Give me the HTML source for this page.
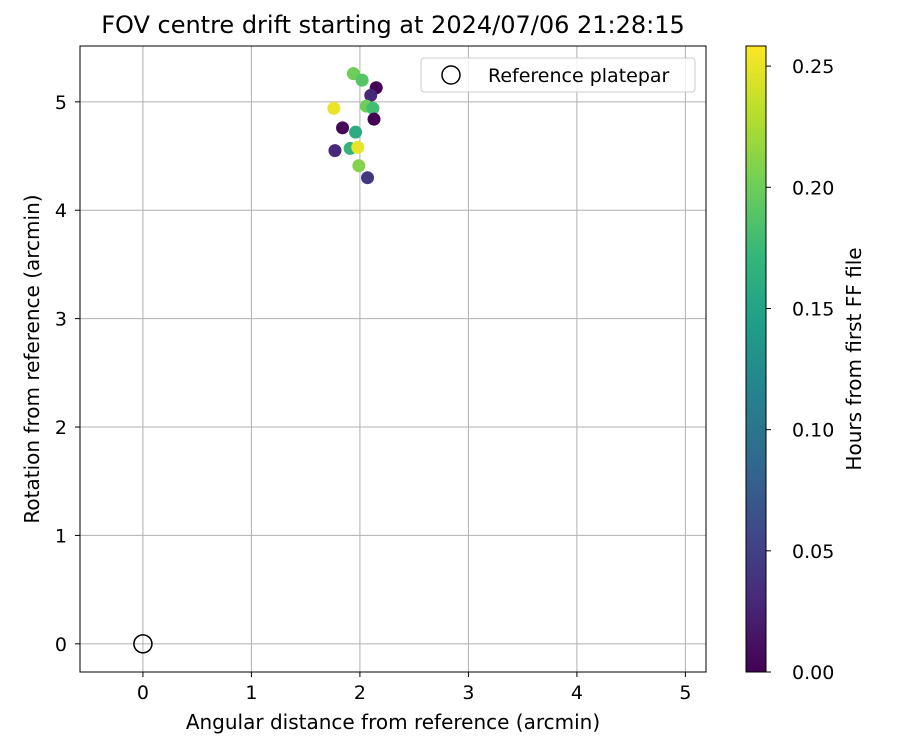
<!DOCTYPE html>
<html><head><meta charset="utf-8"><style>
body{margin:0;background:#fff;font-family:"Liberation Sans","DejaVu Sans",sans-serif;}
svg text{font-family:"DejaVu Sans","Liberation Sans",sans-serif;fill:#000}
</style></head><body>
<svg id="chart" width="900" height="750" xmlns="http://www.w3.org/2000/svg">
<text x="393" y="33" font-size="24" text-anchor="middle">FOV centre drift starting at 2024/07/06 21:28:15</text>
<g id="grid"></g>
<g id="points"></g>
<rect x="80" y="46" width="626" height="626" fill="none" stroke="#000" stroke-width="1"/>
<g id="ticks"></g>
<text x="393" y="729" font-size="20" text-anchor="middle">Angular distance from reference (arcmin)</text>
<text transform="translate(39,359) rotate(-90)" font-size="20" text-anchor="middle">Rotation from reference (arcmin)</text>
<g>
<rect x="421" y="58" width="274" height="34" rx="3" fill="#fff" fill-opacity="0.8" stroke="#ccc"/>
<circle cx="451" cy="75" r="9" fill="none" stroke="#000" stroke-width="1.5"/>
<text x="488" y="82" font-size="19">Reference platepar</text>
</g>
<defs><linearGradient id="vir" x1="0" y1="1" x2="0" y2="0">
<stop offset="0" stop-color="#440154"/><stop offset="0.111" stop-color="#482878"/><stop offset="0.222" stop-color="#3e4989"/><stop offset="0.333" stop-color="#31688e"/><stop offset="0.444" stop-color="#26828e"/><stop offset="0.556" stop-color="#1f9e89"/><stop offset="0.667" stop-color="#35b779"/><stop offset="0.778" stop-color="#6ece58"/><stop offset="0.889" stop-color="#b5de2b"/><stop offset="1" stop-color="#fde725"/>
</linearGradient></defs>
<rect x="746" y="46" width="20" height="626" fill="url(#vir)" stroke="#000" stroke-width="1"/>
<g id="cbticks"></g>
<text transform="translate(861,359) rotate(-90)" font-size="20" text-anchor="middle">Hours from first FF file</text>
</svg>
<script>
const xs=[1.94,2.02,2.15,2.10,1.76,2.06,2.12,2.13,1.84,1.96,1.91,1.98,1.77,1.99,2.07];
const ys=[5.26,5.20,5.13,5.06,4.94,4.96,4.94,4.84,4.76,4.72,4.57,4.58,4.55,4.41,4.30];
const hours=[0.20,0.19,0.00,0.03,0.25,0.20,0.18,0.00,0.005,0.16,0.17,0.25,0.03,0.21,0.04];
const xTicks=[0,1,2,3,4,5];
const yTicks=[0,1,2,3,4,5];
const cTicks=[0.00,0.05,0.10,0.15,0.20,0.25];
const refPoint=[0,0];
const X0=80,X1=706,Y0=672,Y1=46,xmin=-0.58,xmax=5.19,ymin=-0.26,ymax=5.515,cmax=0.2583;
const sx=v=>X0+(v-xmin)/(xmax-xmin)*(X1-X0);
const sy=v=>Y0-(v-ymin)/(ymax-ymin)*(Y0-Y1);
const sc=v=>672-v/cmax*626;
const NS="http://www.w3.org/2000/svg";
const vir=[[68,1,84],[72,40,120],[62,73,137],[49,104,142],[38,130,142],[31,158,137],[53,183,121],[110,206,88],[181,222,43],[253,231,37]];
function col(t){t=Math.max(0,Math.min(1,t/cmax));const f=t*(vir.length-1),i=Math.min(Math.floor(f),vir.length-2),r=f-i;const c=vir[i].map((a,k)=>Math.round(a+(vir[i+1][k]-a)*r));return `rgb(${c})`;}
function mk(tag,at,parent){const e=document.createElementNS(NS,tag);for(const k in at)e.setAttribute(k,at[k]);document.getElementById(parent).appendChild(e);return e;}
xTicks.forEach(t=>{const x=sx(t);
const g=mk('line',{x1:x,x2:x,y1:46,y2:672,stroke:'#b0b0b0','stroke-width':1},'grid');


const tk=mk('line',{x1:x,x2:x,y1:672,y2:677,stroke:'#000'},'ticks');


const tx=mk('text',{x:x,y:699,'font-size':19,'text-anchor':'middle'},'ticks');tx.textContent=t;

});
yTicks.forEach(t=>{const y=sy(t);
const g=mk('line',{x1:80,x2:706,y1:y,y2:y,stroke:'#b0b0b0','stroke-width':1},'grid');


const tk=mk('line',{x1:75,x2:80,y1:y,y2:y,stroke:'#000'},'ticks');


const tx=mk('text',{x:67,y:y+7,'font-size':19,'text-anchor':'end'},'ticks');tx.textContent=t;

});
cTicks.forEach(t=>{const y=sc(t);
const tk=mk('line',{x1:766,x2:771,y1:y,y2:y,stroke:'#000'},'cbticks');


const tx=mk('text',{x:792,y:y+7,'font-size':19},'cbticks');tx.textContent=t.toFixed(2);

});
xs.forEach((v,i)=>{const c=mk('circle',{cx:sx(v),cy:sy(ys[i]),r:6.5,fill:col(hours[i])},'points');

});
const rp=mk('circle',{cx:sx(refPoint[0]),cy:sy(refPoint[1]),r:9,fill:'none',stroke:'#000','stroke-width':1.5},'points');


</script>
</body></html>
